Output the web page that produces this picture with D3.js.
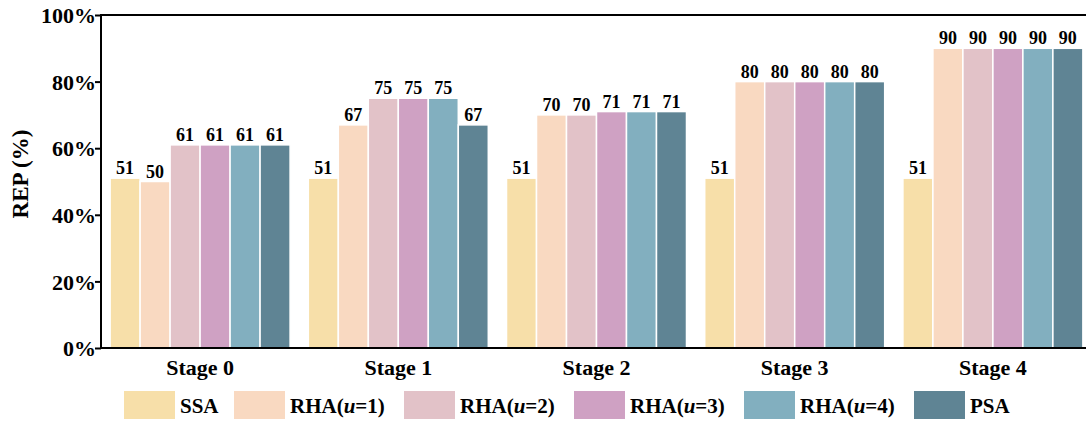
<!DOCTYPE html>
<html>
<head>
<meta charset="utf-8">
<script src="https://cdn.jsdelivr.net/npm/d3@7"></script>
<style>
  body { margin: 0; background: #fff; }
  svg text { font-family: 'Liberation Serif', 'Times New Roman', Times, serif !important; font-weight: bold; fill: #000; }
</style>
</head>
<body>
<svg id="chart"></svg>
<script>
var stages = ["Stage 0", "Stage 1", "Stage 2", "Stage 3", "Stage 4"];
var seriesNames = ["SSA", "RHA1", "RHA2", "RHA3", "RHA4", "PSA"];
var seriesColors = ["#f7dfa9", "#f9d9c1", "#e2c2c8", "#cfa1c3", "#82afbf", "#5f8494"];
var ssa  = [51, 51, 51, 51, 51];
var rha1 = [50, 67, 70, 80, 90];
var rha2 = [61, 75, 70, 80, 90];
var rha3 = [61, 75, 71, 80, 90];
var rha4 = [61, 75, 71, 80, 90];
var psa  = [61, 67, 71, 80, 90];
var yTicks = [0, 20, 40, 60, 80, 100];

var allSeries = [ssa, rha1, rha2, rha3, rha4, psa];

var width = 1086, height = 421;
var margin = {top: 15, right: -6, bottom: 73, left: 101};

var svg = d3.select("#chart")
  .attr("width", width)
  .attr("height", height);

var x0 = d3.scaleBand()
  .domain(stages)
  .range([margin.left, width - margin.right])
  .paddingInner(0.092)
  .paddingOuter(0.046);

var x1 = d3.scaleBand()
  .domain(seriesNames)
  .range([0, x0.bandwidth()]);

var y = d3.scaleLinear()
  .domain([0, 100])
  .range([height - margin.bottom, margin.top]);

// bars
var groups = svg.append("g").selectAll("g")
  .data(stages)
  .enter().append("g")
  .attr("transform", function(d) { return "translate(" + x0(d) + ",0)"; });

groups.selectAll("rect")
  .data(function(d, i) {
    return seriesNames.map(function(s, j) { return {s: s, v: allSeries[j][i], c: seriesColors[j]}; });
  })
  .enter().append("rect")
  .attr("x", function(d) { return x1(d.s); })
  .attr("y", function(d) { return y(d.v); })
  .attr("width", x1.bandwidth())
  .attr("height", function(d) { return y(0) - y(d.v); })
  .style("fill", function(d) { return d.c; })
  .style("stroke", "#fff")
  .style("stroke-width", 1.5);

groups.selectAll("text")
  .data(function(d, i) {
    return seriesNames.map(function(s, j) { return {s: s, v: allSeries[j][i]}; });
  })
  .enter().append("text")
  .attr("x", function(d) { return x1(d.s) + x1.bandwidth() / 2; })
  .attr("y", function(d) { return y(d.v) - 4; })
  .attr("text-anchor", "middle")
  .style("font-size", "18px")
  .text(function(d) { return d.v; });

// axes
var yAxis = svg.append("g")
  .attr("transform", "translate(" + margin.left + ",0)")
  .call(d3.axisLeft(y).tickValues(yTicks).tickSize(6).tickFormat(function(d) { return d + "%"; }));
yAxis.select(".domain").remove();
yAxis.selectAll("line").style("stroke-width", 2);
yAxis.selectAll("text").style("font-size", "22px").attr("dy", "0.35em").attr("x", -5);

var xAxis = svg.append("g")
  .attr("transform", "translate(0," + (height - margin.bottom) + ")")
  .call(d3.axisBottom(x0).tickSize(0).tickPadding(11));
xAxis.select(".domain").remove();
xAxis.selectAll("text").style("font-size", "22px");

// frame
svg.append("rect")
  .attr("x", margin.left)
  .attr("y", margin.top)
  .attr("width", width - margin.right - margin.left)
  .attr("height", height - margin.bottom - margin.top)
  .style("fill", "none")
  .style("stroke", "#000")
  .style("stroke-width", 2);

svg.append("text")
  .attr("transform", "translate(28,174) rotate(-90)")
  .attr("text-anchor", "middle")
  .style("font-size", "23px")
  .text("REP (%)");

// legend
var legendX = [124, 234, 404, 574, 744, 914];
var legendParts = [["SSA"], ["RHA(", "u", "=1)"], ["RHA(", "u", "=2)"], ["RHA(", "u", "=3)"], ["RHA(", "u", "=4)"], ["PSA"]];

var legend = svg.append("g").selectAll("g")
  .data(seriesNames)
  .enter().append("g")
  .attr("transform", function(d, i) { return "translate(" + legendX[i] + ",391)"; });

legend.append("rect")
  .attr("width", 51)
  .attr("height", 28)
  .style("fill", function(d, i) { return seriesColors[i]; });

legend.append("text")
  .attr("x", 56)
  .attr("y", 22)
  .style("font-size", "21px")
  .each(function(d, i) {
    var t = d3.select(this);
    legendParts[i].forEach(function(p) {
      t.append("tspan")
        .style("font-style", p === "u" ? "italic" : "normal")
        .text(p);
    });
  });
</script>
</body>
</html>
